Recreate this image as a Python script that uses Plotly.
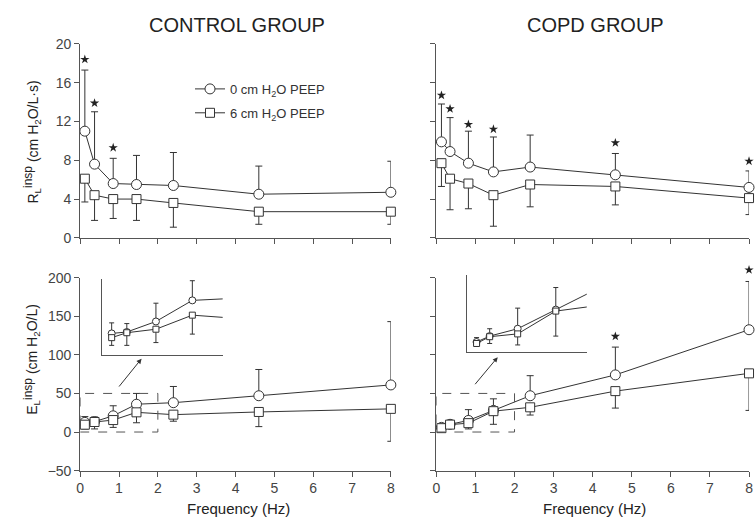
import plotly.graph_objects as go

# ---------------- data ----------------
freq_ctl = [0.12, 0.37, 0.85, 1.45, 2.4, 4.6, 8.0]
freq_copd = [0.13, 0.35, 0.82, 1.46, 2.4, 4.58, 8.0]

# Control group, R_L insp (cm H2O/L*s)
ctl_rl_0 = [11.0, 7.6, 5.6, 5.5, 5.4, 4.5, 4.7]
ctl_rl_0_upper = [17.3, 13.0, 8.2, 8.5, 8.8, 7.4, 7.9]
ctl_rl_6 = [6.1, 4.4, 4.0, 4.0, 3.6, 2.7, 2.7]
ctl_rl_6_lower = [3.7, 1.8, 2.0, 1.8, 1.1, 1.4, 1.4]
ctl_rl_star_f = [0.12, 0.37, 0.85]
ctl_rl_star_y = [18.4, 13.9, 9.3]

# COPD group, R_L insp
copd_rl_0 = [9.9, 8.9, 7.7, 6.8, 7.3, 6.5, 5.2]
copd_rl_0_upper = [13.8, 12.4, 11.0, 10.4, 10.6, 8.7, 6.9]
copd_rl_6 = [7.7, 6.1, 5.6, 4.4, 5.5, 5.3, 4.1]
copd_rl_6_lower = [5.3, 2.9, 3.0, 1.2, 3.2, 3.4, 2.4]
copd_rl_star_f = [0.13, 0.35, 0.82, 1.46, 4.58, 8.0]
copd_rl_star_y = [14.7, 13.3, 11.7, 11.2, 9.8, 7.9]

# Control group, E_L insp (cm H2O/L)
ctl_el_0 = [12.5, 13.5, 21.0, 36.0, 38.0, 47.0, 61.0]
ctl_el_0_upper = [20.0, 19.5, 34.0, 50.0, 59.0, 81.0, 143.0]
ctl_el_6 = [9.5, 13.0, 15.5, 25.5, 22.5, 26.0, 30.0]
ctl_el_6_lower = [4.0, 4.0, 6.0, 12.0, 14.0, 7.0, -12.0]

# COPD group, E_L insp
copd_el_0 = [6.0, 10.0, 15.0, 28.0, 47.0, 74.0, 132.5]
copd_el_0_upper = [9.0, 15.0, 29.0, 43.0, 73.0, 110.0, 195.0]
copd_el_6 = [5.0, 9.6, 11.5, 27.0, 32.0, 53.0, 76.0]
copd_el_6_lower = [3.0, 5.0, 4.0, 10.0, 22.0, 31.0, 28.0]
copd_el_star_f = [4.58, 8.0]
copd_el_star_y = [124.0, 210.0]

x_ticks = [0, 1, 2, 3, 4, 5, 6, 7, 8]
rl_ticks = [0, 4, 8, 12, 16, 20]
el_ticks = [-50, 0, 50, 100, 150, 200]

# ---------------- layout helpers ----------------
W, H = 755, 531
FONT = "Liberation Sans, Arial, Helvetica, sans-serif"
INK = "#333333"


def xd(a, b):
    return [a / W, b / W]


def yd(top, bottom):
    return [1 - bottom / H, 1 - top / H]


fig = go.Figure()


def add_pair(f, v0, up0, v6, lo6, xa, ya, msize=10, capw=3.5, legend=False, clip=False):
    fig.add_trace(go.Scatter(
        x=f, y=v0, mode="lines+markers", xaxis=xa, yaxis=ya,
        name="0 cm H<sub>2</sub>O PEEP", showlegend=legend, cliponaxis=clip, legendgroup="a",
        line=dict(color=INK, width=1),
        marker=dict(symbol="circle", size=msize, color="white", line=dict(color=INK, width=1)),
        error_y=dict(type="data", symmetric=False,
                     array=[u - v for u, v in zip(up0, v0)],
                     arrayminus=[0] * len(v0), width=capw, thickness=1, color=INK),
    ))
    fig.add_trace(go.Scatter(
        x=f, y=v6, mode="lines+markers", xaxis=xa, yaxis=ya,
        name="6 cm H<sub>2</sub>O PEEP", showlegend=legend, cliponaxis=clip, legendgroup="b",
        line=dict(color=INK, width=1),
        marker=dict(symbol="square", size=msize - 1, color="white", line=dict(color=INK, width=1)),
        error_y=dict(type="data", symmetric=False,
                     array=[0] * len(v6),
                     arrayminus=[v - l for v, l in zip(v6, lo6)], width=capw, thickness=1, color=INK),
    ))


def add_stars(f, y, xa, ya):
    fig.add_trace(go.Scatter(
        x=f, y=y, mode="markers", xaxis=xa, yaxis=ya, hoverinfo="skip",
        showlegend=False, cliponaxis=False,
        marker=dict(symbol="star", size=7, color="#222", line=dict(width=0)),
    ))


add_pair(freq_ctl, ctl_rl_0, ctl_rl_0_upper, ctl_rl_6, ctl_rl_6_lower, "x", "y", legend=True)
add_stars(ctl_rl_star_f, ctl_rl_star_y, "x", "y")
add_pair(freq_copd, copd_rl_0, copd_rl_0_upper, copd_rl_6, copd_rl_6_lower, "x2", "y2")
add_stars(copd_rl_star_f, copd_rl_star_y, "x2", "y2")
add_pair(freq_ctl, ctl_el_0, ctl_el_0_upper, ctl_el_6, ctl_el_6_lower, "x3", "y3")
add_pair(freq_copd, copd_el_0, copd_el_0_upper, copd_el_6, copd_el_6_lower, "x4", "y4")
# stars of the bottom-right panel go on an invisible axis with the same scale
# but extending a little above 200, so the 8 Hz star is not hidden
add_stars(copd_el_star_f, copd_el_star_y, "x4", "y7")
# insets (zoom of 0-2 Hz region)
add_pair(freq_ctl, ctl_el_0, ctl_el_0_upper, ctl_el_6, ctl_el_6_lower, "x5", "y5", msize=7, capw=2.5, clip=True)
add_pair(freq_copd, copd_el_0, copd_el_0_upper, copd_el_6, copd_el_6_lower, "x6", "y6", msize=7, capw=2.5, clip=True)

tickfont = dict(family=FONT, size=14, color="#444")
axis_common = dict(showline=True, linecolor="#555", linewidth=1, ticks="outside", ticklen=5,
                   tickcolor="#555", showgrid=False, zeroline=False, tickfont=tickfont)
inset_axis = dict(showline=True, linecolor="#555", linewidth=1, showticklabels=False, ticks="",
                  showgrid=False, zeroline=False)

EL_TOP_PX, EL_BOT_PX = 278, 477
el_px_per_unit = (EL_BOT_PX - EL_TOP_PX) / (el_ticks[-1] - el_ticks[0])
STAR_TOP_PX = 255
star_axis_top = el_ticks[-1] + (EL_TOP_PX - STAR_TOP_PX) / el_px_per_unit

fig.update_layout(
    xaxis=dict(axis_common, domain=xd(77, 391), range=[0, 8], tickvals=x_ticks, showticklabels=False, anchor="y"),
    yaxis=dict(axis_common, domain=yd(37, 237), range=[0, 20], tickvals=rl_ticks, anchor="x"),
    xaxis2=dict(axis_common, domain=xd(437, 753), range=[0, 8], tickvals=x_ticks, showticklabels=False, anchor="y2"),
    yaxis2=dict(axis_common, domain=yd(37, 237), range=[0, 20], tickvals=rl_ticks, showticklabels=False, anchor="x2"),
    xaxis3=dict(axis_common, domain=xd(77, 391), range=[0, 8], tickvals=x_ticks, anchor="y3"),
    yaxis3=dict(axis_common, domain=yd(EL_TOP_PX, EL_BOT_PX), range=[-50, 200], tickvals=el_ticks, anchor="x3"),
    xaxis4=dict(axis_common, domain=xd(437, 753), range=[0, 8], tickvals=x_ticks, anchor="y4"),
    yaxis4=dict(axis_common, domain=yd(EL_TOP_PX, EL_BOT_PX), range=[-50, 200], tickvals=el_ticks, showticklabels=False, anchor="x4"),
    xaxis5=dict(inset_axis, domain=xd(99, 221), range=[-0.04, 1.95], anchor="y5"),
    yaxis5=dict(inset_axis, domain=yd(279, 358), range=[-3, 51.5], anchor="x5"),
    xaxis6=dict(inset_axis, domain=xd(468, 589), range=[-0.03, 1.98], anchor="y6"),
    yaxis6=dict(inset_axis, domain=yd(275, 355), range=[-1, 51.7], anchor="x6"),
    yaxis7=dict(domain=yd(STAR_TOP_PX, EL_BOT_PX), range=[-50, star_axis_top], visible=False,
                showgrid=False, zeroline=False, anchor="x4"),
    width=W, height=H, margin=dict(l=0, r=0, t=0, b=0),
    paper_bgcolor="white", plot_bgcolor="rgba(0,0,0,0)",
    font=dict(family=FONT, color=INK),
    legend=dict(x=188 / W, y=1 - 68 / H, xanchor="left", yanchor="top", traceorder="grouped",
                bgcolor="rgba(0,0,0,0)", font=dict(family=FONT, size=13, color=INK),
                tracegroupgap=4, itemwidth=30),
)

# dashed zoom boxes
for xr, yr in (("x3", "y3"), ("x4", "y4")):
    fig.add_shape(type="rect", xref=xr, yref=yr, x0=0, x1=2, y0=0, y1=50,
                  line=dict(color="#555", width=1, dash="dash"))
# arrows to insets
fig.add_annotation(xref="x3", yref="y3", axref="x3", ayref="y3", x=1.58, y=95, ax=0.97, ay=57,
                   text="", showarrow=True, arrowhead=2, arrowsize=1, arrowwidth=1, arrowcolor=INK)
fig.add_annotation(xref="x4", yref="y4", axref="x4", ayref="y4", x=1.57, y=97, ax=0.96, ay=60,
                   text="", showarrow=True, arrowhead=2, arrowsize=1, arrowwidth=1, arrowcolor=INK)


def txt(x, y, s, size, angle=0):
    fig.add_annotation(xref="paper", yref="paper", x=x / W, y=1 - y / H, text=s, showarrow=False,
                       textangle=angle, xanchor="center", yanchor="middle",
                       font=dict(family=FONT, size=size, color="#222"))


SUP = '<sup><span style="font-size:12px">insp</span></sup>'
txt(235, 18, "CONTROL GROUP", 20)
txt(598, 18, "COPD GROUP", 20)
txt(237, 516, "Frequency (Hz)", 15)
txt(597, 516, "Frequency (Hz)", 15)
txt(28, 138, "R<sub>L</sub>" + SUP + " (cm H<sub>2</sub>O/L·s)", 14, -90)
txt(28, 362, "E<sub>L</sub>" + SUP + " (cm H<sub>2</sub>O/L)", 14, -90)

fig.write_html("out.html", config={"displayModeBar": False},
               post_script="document.body.style.margin='0';")
